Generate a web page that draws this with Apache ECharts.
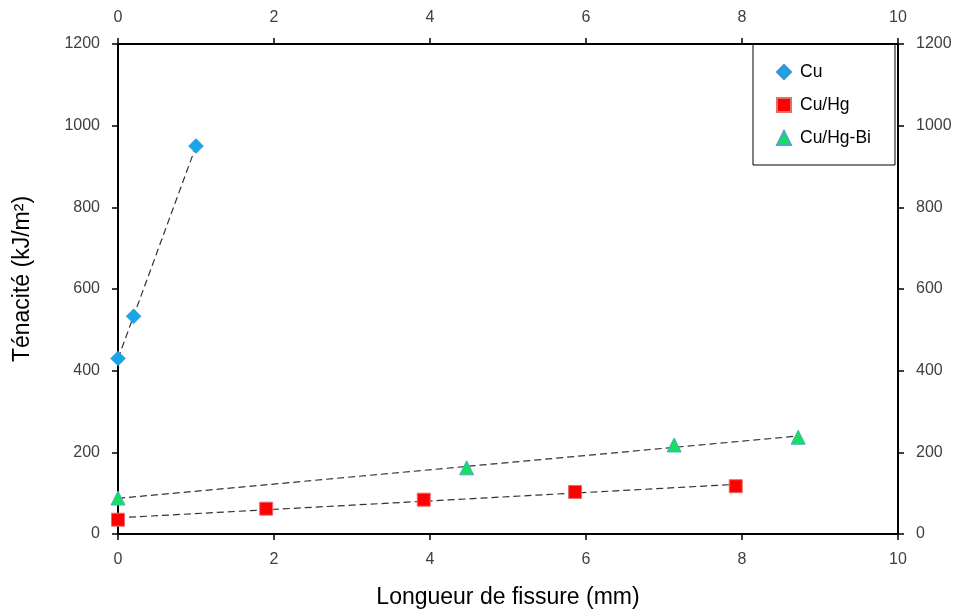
<!DOCTYPE html>
<html>
<head>
<meta charset="utf-8">
<script src="https://cdn.jsdelivr.net/npm/echarts@6/dist/echarts.min.js"></script>
<style>html,body{margin:0;padding:0;background:#fff;}#c{width:963px;height:614px;}</style>
</head>
<body>
<div id="c"></div>
<script>
// Data
var cuX = [0, 0.2, 1.0];
var cuY = [430, 533, 950];
var cuhgX = [0, 1.9, 3.92, 5.86, 7.92];
var cuhgY = [35, 62, 84, 103, 117];
var cuhgbiX = [0, 4.47, 7.13, 8.72];
var cuhgbiY = [88, 162, 218, 237];
var xTicks = [0, 2, 4, 6, 8, 10];
var yTicks = [0, 200, 400, 600, 800, 1000, 1200];
var seriesNames = ['Cu', 'Cu/Hg', 'Cu/Hg-Bi'];

function pairs(xs, ys) { return xs.map(function (x, i) { return [x, ys[i]]; }); }
function fit(xs, ys) {
  var n = xs.length, mx = 0, my = 0;
  for (var i = 0; i < n; i++) { mx += xs[i]; my += ys[i]; }
  mx /= n; my /= n;
  var sxx = 0, sxy = 0;
  for (var j = 0; j < n; j++) { sxx += (xs[j] - mx) * (xs[j] - mx); sxy += (xs[j] - mx) * (ys[j] - my); }
  var b = sxy / sxx, a = my - b * mx;
  var x0 = Math.min.apply(null, xs), x1 = Math.max.apply(null, xs);
  return [[x0, a + b * x0], [x1, a + b * x1]];
}

var font = 'Liberation Sans, Arial, sans-serif';
var axLine = { show: true, onZero: false, lineStyle: { color: '#000', width: 2 } };
var tick = { show: true, inside: false, length: 6, lineStyle: { color: '#000', width: 1.5 } };
var lbl = { color: '#404040', fontSize: 16, fontFamily: font, margin: 18,
  formatter: function (v) { return String(v); } };

var trendStyle = { color: '#333', width: 1.2, type: [7, 4] };

var chart = echarts.init(document.getElementById('c'), null, { renderer: 'canvas' });
chart.setOption({
  animation: false,
  backgroundColor: '#fff',
  grid: { left: 118, right: 65, top: 44, bottom: 78 },
  legend: {
    data: seriesNames,
    orient: 'vertical',
    left: 753, top: 44,
    padding: [19, 24, 18, 23],
    itemWidth: 14, itemHeight: 14, itemGap: 15,
    borderColor: '#000', borderWidth: 1,
    textStyle: { fontSize: 17.5, fontFamily: font, color: '#000', padding: [0, 0, 0, 4] }
  },
  xAxis: [
    { type: 'value', position: 'bottom', min: 0, max: 10, interval: 2,
      axisLine: axLine, axisTick: tick, splitLine: { show: false },
      axisLabel: lbl,
      name: 'Longueur de fissure (mm)', nameLocation: 'middle', nameGap: 52,
      nameTextStyle: { fontSize: 23, fontFamily: font, color: '#000' } },
    { type: 'value', position: 'top', min: 0, max: 10, interval: 2,
      axisLine: axLine, axisTick: tick, splitLine: { show: false },
      axisLabel: lbl }
  ],
  yAxis: [
    { type: 'value', position: 'left', min: 0, max: 1200, interval: 200,
      axisLine: axLine, axisTick: tick, splitLine: { show: false },
      axisLabel: lbl,
      name: 'Ténacité (kJ/m²)', nameLocation: 'middle', nameGap: 84,
      nameTextStyle: { fontSize: 23, fontFamily: font, color: '#000', padding: [0, 0, 0, 20] } },
    { type: 'value', position: 'right', min: 0, max: 1200, interval: 200,
      axisLine: axLine, axisTick: tick, splitLine: { show: false },
      axisLabel: lbl }
  ],
  series: [
    { name: 'trend-Cu', type: 'line', data: fit(cuX, cuY), showSymbol: false, symbol: 'none',
      lineStyle: trendStyle, z: 1, silent: true },
    { name: 'trend-CuHg', type: 'line', data: fit(cuhgX, cuhgY), showSymbol: false, symbol: 'none',
      lineStyle: trendStyle, z: 1, silent: true },
    { name: 'trend-CuHgBi', type: 'line', data: fit(cuhgbiX, cuhgbiY), showSymbol: false, symbol: 'none',
      lineStyle: trendStyle, z: 1, silent: true },
    { name: 'Cu', type: 'scatter', data: pairs(cuX, cuY), symbol: 'diamond', symbolSize: 15,
      itemStyle: { color: '#1AA6E6', borderColor: '#3d8fd0', borderWidth: 0.5, opacity: 1 }, z: 3 },
    { name: 'Cu/Hg', type: 'scatter', data: pairs(cuhgX, cuhgY), symbol: 'rect', symbolSize: 13,
      itemStyle: { color: '#FF0000', borderColor: '#e07070', borderWidth: 1, opacity: 1 }, z: 3 },
    { name: 'Cu/Hg-Bi', type: 'scatter', data: pairs(cuhgbiX, cuhgbiY), symbol: 'triangle', symbolSize: 14,
      itemStyle: { color: '#14E060', borderColor: '#4BACC6', borderWidth: 1, opacity: 1 }, z: 3 }
  ]
});
</script>
</body>
</html>
